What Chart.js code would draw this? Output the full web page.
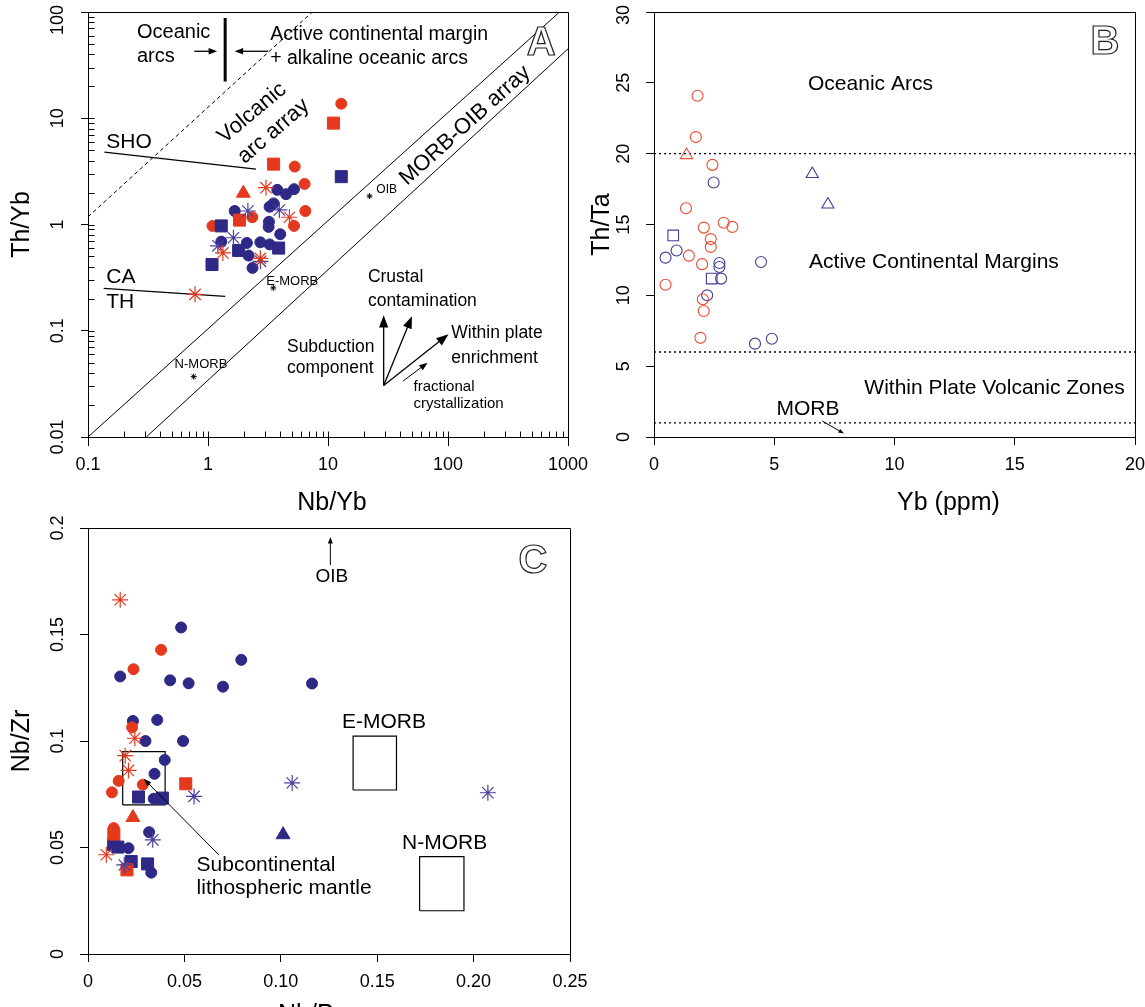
<!DOCTYPE html>
<html><head><meta charset="utf-8">
<script src="https://cdn.jsdelivr.net/npm/chart.js@4.4.1/dist/chart.umd.min.js"></script>
<style>
html,body{margin:0;padding:0;background:#fff;overflow:hidden;}
#wrap{position:relative;width:1145px;height:1007px;overflow:hidden;background:#fff;}
canvas{position:absolute;display:block;}
</style></head><body><div id="wrap">
<canvas id="chartA" width="600" height="530" style="left:0px;top:0px;width:600px;height:530px"></canvas>
<canvas id="chartB" width="565" height="530" style="left:580px;top:0px;width:565px;height:530px"></canvas>
<canvas id="chartC" width="600" height="497" style="left:0px;top:510px;width:600px;height:497px"></canvas>
</div>
<script>
const FONT = "'Liberation Sans', Arial, Helvetica, sans-serif";
const RED = '#e5391d';
const NAVY = '#2e2886';
const NAVY_STAR = '#4a3f9c';
const RED_OPEN = '#ea4a30';
const NAVY_OPEN = '#453c98';

// ---------------- Panel A : Th/Yb vs Nb/Yb ----------------
const aRedCircles = [[12.9,13.7],[5.28,3.51],[6.38,2.41],[6.47,1.34],[5.21,0.97],[1.09,0.97],[2.34,1.17]];
const aRedSquares = [[11.1,9.0],[3.52,3.70],[1.83,1.10]];
const aRedTriangles = [[1.97,1.97]];
const aRedStars = [[3.04,2.22],[4.77,1.17],[1.33,0.54],[2.73,0.48],[0.78,0.22]];
const aBlueCircles = [[3.78,2.12],[4.47,1.93],[5.21,2.15],[1.67,1.34],[3.26,1.47],[3.52,1.58],[3.22,1.06],[3.2,0.95],[4.0,0.81],[1.29,0.69],[2.11,0.67],[2.73,0.68],[3.26,0.65],[2.18,0.51],[2.35,0.39]];
const aBlueSquares = [[12.9,2.82],[1.29,0.97],[1.8,0.57],[3.88,0.6],[1.08,0.42]];
const aBlueStars = [[2.15,1.34],[3.93,1.37],[1.63,0.75],[1.21,0.63],[2.74,0.45]];
const aRefPoints = [[0.76,0.037],[3.5,0.253],[22.2,1.85]];   // N-MORB, E-MORB, OIB
const aLineVolcArc = [[0.1,1.18],[7.4,100]];
const aLineMorbUpper = [[0.1,0.01],[850,100]];
const aLineMorbLower = [[0.306,0.01],[1000,45]];
const aLineSHO = [[0.137,4.8],[2.51,3.32]];
const aLineCATH = [[0.135,0.25],[1.39,0.211]];
const aLineArcBoundary = [[1.39,88],[1.39,22.2]];
const aXTickValues = [0.1,1,10,100,1000];
const aXTickLabels = ['0.1','1','10','100','1000'];
const aYTickValues = [0.01,0.1,1,10,100];
const aYTickLabels = ['0.01','0.1','1','10','100'];
const minorMultipliers = [2,3,4,5,6,7,8,9];

const aNotes = [
 {text:'Oceanic', x:0.256, y:63.7, size:20, align:'left'},
 {text:'arcs', x:0.256, y:38.3, size:20, align:'left'},
 {text:'Active continental margin', x:3.30, y:61.3, size:19.5, align:'left'},
 {text:'+ alkaline oceanic arcs', x:3.30, y:36.2, size:19.5, align:'left'},
 {text:'SHO', x:0.142, y:5.94, size:21, align:'left'},
 {text:'CA', x:0.142, y:0.318, size:21, align:'left'},
 {text:'TH', x:0.142, y:0.184, size:21, align:'left'},
 {text:'Volcanic', x:2.33, y:11.2, size:22, align:'center', rot:-40},
 {text:'arc array', x:3.52, y:7.54, size:22, align:'center', rot:-41},
 {text:'MORB-OIB array', x:138.7, y:8.53, size:22, align:'center', rot:-42},
 {text:'Crustal', x:21.5, y:0.322, size:17.5, align:'left'},
 {text:'contamination', x:21.5, y:0.191, size:17.5, align:'left'},
 {text:'Within plate', x:106.5, y:0.0953, size:17.5, align:'left'},
 {text:'enrichment', x:106.5, y:0.0547, size:17.5, align:'left'},
 {text:'Subduction', x:4.55, y:0.0703, size:17.5, align:'left'},
 {text:'component', x:4.55, y:0.044, size:17.5, align:'left'},
 {text:'fractional', x:51.7, y:0.0295, size:15, align:'left'},
 {text:'crystallization', x:51.7, y:0.0203, size:15, align:'left'},
 {text:'N-MORB', x:0.527, y:0.048, size:13, align:'left'},
 {text:'E-MORB', x:3.06, y:0.289, size:13, align:'left'},
 {text:'OIB', x:25.3, y:2.12, size:12, align:'left'}
];
const aArrows = [
 {from:[29.1,0.0306], to:[29.1,0.140], head:13, width:1.3},
 {from:[29.1,0.0306], to:[50.1,0.137], head:13, width:1.3},
 {from:[29.1,0.0306], to:[101,0.0927], head:13, width:1.3},
 {from:[42.2,0.0336], to:[67.6,0.0501], head:9, width:1},
 {from:[0.769,42.7], to:[1.19,42.7], head:9, width:1.3},
 {from:[3.18,42.7], to:[1.67,42.7], head:9, width:1.3}
];

// ---------------- Panel B : Th/Ta vs Yb ----------------
const bRedCircles = [[1.81,24.09],[1.74,21.17],[2.43,19.21],[1.33,16.15],[2.07,14.78],[2.90,15.12],[3.26,14.83],[2.36,13.97],[2.36,13.42],[1.45,12.8],[2.0,12.2],[0.48,10.75],[2.03,9.72],[2.07,8.89],[1.93,7.0]];
const bRedTriangles = [[1.35,19.9]];
const bBlueCircles = [[2.48,17.97],[0.94,13.16],[0.48,12.66],[2.72,12.28],[2.72,12.0],[4.45,12.35],[2.79,11.18],[2.21,10.0],[4.2,6.59],[4.9,6.94]];
const bBlueSquares = [[0.80,14.23],[2.4,11.18]];
const bBlueTriangles = [[6.58,18.56],[7.23,16.41]];
const bLineOceanicArcs = [[0,20],[20,20]];
const bLineACM = [[0,6],[20,6]];
const bLineMORB = [[0,1],[20,1]];
const bXTickValues = [0,5,10,15,20];
const bXTickLabels = ['0','5','10','15','20'];
const bYTickValues = [0,5,10,15,20,25,30];
const bYTickLabels = ['0','5','10','15','20','25','30'];
const bNotes = [
 {text:'Oceanic Arcs', x:9.0, y:24.93, size:21, align:'center'},
 {text:'Active Continental Margins', x:11.64, y:12.37, size:21, align:'center'},
 {text:'Within Plate Volcanic Zones', x:19.57, y:3.42, size:21, align:'right'},
 {text:'MORB', x:6.4, y:1.96, size:21, align:'center'}
];
const bArrows = [{from:[7.0,1.13], to:[7.9,0.24], head:6, width:1}];

// ---------------- Panel C : Nb/Zr ----------------
const cRedCircles = [[0.0379,0.1428],[0.0236,0.1337],[0.0229,0.1064],[0.0159,0.0813],[0.0124,0.0759],[0.0284,0.0795],[0.0133,0.0591]];
const cRedSquares = [[0.0507,0.0799],[0.0134,0.0563],[0.0202,0.0395]];
const cRedTriangles = [[0.0233,0.0641]];
const cRedStars = [[0.0167,0.1663],[0.0243,0.1013],[0.0193,0.0931],[0.021,0.0862],[0.0095,0.0466]];
const cBlueCircles = [[0.0483,0.1533],[0.0167,0.1303],[0.0426,0.1285],[0.0522,0.1271],[0.070,0.1255],[0.0795,0.1381],[0.1162,0.127],[0.0233,0.1094],[0.0359,0.1099],[0.0298,0.1],[0.0493,0.1],[0.0398,0.0911],[0.0345,0.0846],[0.0341,0.0729],[0.0317,0.0572],[0.021,0.0497],[0.0328,0.0382]];
const cBlueSquares = [[0.0262,0.0737],[0.0386,0.0732],[0.0133,0.0513],[0.0155,0.0502],[0.0224,0.0434],[0.0309,0.0423]];
const cBlueTriangles = [[0.1012,0.056]];
const cBlueStars = [[0.055,0.074],[0.1059,0.0803],[0.2074,0.0757],[0.0336,0.0536],[0.0188,0.0418]];
const cBoxSCLM = [0.018,0.040,0.070,0.095];     // xmin,xmax,ymin,ymax
const cBoxEMORB = [0.1375,0.160,0.077,0.1023];
const cBoxNMORB = [0.172,0.195,0.0203,0.0457];
const cXTickValues = [0,0.05,0.1,0.15,0.2,0.25];
const cXTickLabels = ['0','0.05','0.10','0.15','0.20','0.25'];
const cYTickValues = [0,0.05,0.1,0.15,0.2];
const cYTickLabels = ['0','0.05','0.1','0.15','0.2'];
const cNotes = [
 {text:'OIB', x:0.1265, y:0.1771, size:19, align:'center'},
 {text:'E-MORB', x:0.1535, y:0.109, size:21, align:'center'},
 {text:'N-MORB', x:0.185, y:0.052, size:21, align:'center'},
 {text:'Subcontinental', x:0.0563, y:0.0418, size:21, align:'left'},
 {text:'lithospheric mantle', x:0.0563, y:0.031, size:21, align:'left'}
];
const cArrows = [
 {from:[0.1257,0.1826], to:[0.1257,0.1958], head:7, width:1},
 {from:[0.0679,0.0465], to:[0.029,0.0822], head:8, width:1}
];

// ---------------- helpers ----------------
const toXY = arr => arr.map(p => ({x:p[0], y:p[1]}));
const rectPath = b => [[b[0],b[2]],[b[1],b[2]],[b[1],b[3]],[b[0],b[3]],[b[0],b[2]]];
function pts(data, style, color, radius, filled, bw) {
  return {data: toXY(data), pointStyle: style, pointRadius: radius, pointHoverRadius: radius,
    backgroundColor: filled ? color : 'rgba(0,0,0,0)', borderColor: color,
    pointBackgroundColor: filled ? color : 'rgba(0,0,0,0)', pointBorderColor: color,
    pointBorderWidth: bw, borderWidth: bw, showLine:false};
}
function line(data, width, dash) {
  return {data: toXY(data), showLine:true, borderColor:'#000', borderWidth:width, borderDash: dash || [],
    pointRadius:0, pointHoverRadius:0, fill:false, tension:0};
}
function logMinor(decades) {
  const out = [];
  decades.forEach(d => minorMultipliers.forEach(m => out.push(d*m)));
  return out;
}
function arrow(ctx, x1, y1, x2, y2, head, width) {
  const a = Math.atan2(y2-y1, x2-x1);
  ctx.lineWidth = width;
  ctx.beginPath(); ctx.moveTo(x1,y1); ctx.lineTo(x2 - Math.cos(a)*head*0.6, y2 - Math.sin(a)*head*0.6); ctx.stroke();
  ctx.beginPath(); ctx.moveTo(x2,y2);
  ctx.lineTo(x2 - head*Math.cos(a-0.36), y2 - head*Math.sin(a-0.36));
  ctx.lineTo(x2 - head*Math.cos(a+0.36), y2 - head*Math.sin(a+0.36));
  ctx.closePath(); ctx.fill();
}

function decor(spec) {
  return {
    id: 'decor' + spec.id,
    afterDraw(chart) {
      const ctx = chart.ctx, xs = chart.scales.x, ys = chart.scales.y, ca = chart.chartArea;
      const X = v => xs.getPixelForValue(v), Y = v => ys.getPixelForValue(v);
      ctx.save();
      ctx.strokeStyle = '#000'; ctx.fillStyle = '#000'; ctx.lineWidth = 1;
      // frame
      const l = Math.round(ca.left)+0.5, r = Math.round(ca.right)+0.5, t = Math.round(ca.top)+0.5, b = Math.round(ca.bottom)+0.5;
      ctx.beginPath(); ctx.moveTo(l,t); ctx.lineTo(r,t); ctx.lineTo(r,b); ctx.stroke();
      // inner ticks
      (spec.xInner || []).forEach(v => { const p = Math.round(X(v))+0.5; ctx.beginPath(); ctx.moveTo(p,b); ctx.lineTo(p,b-spec.innerLen); ctx.stroke(); });
      (spec.yInner || []).forEach(v => { const p = Math.round(Y(v))+0.5; ctx.beginPath(); ctx.moveTo(l,p); ctx.lineTo(l+spec.innerLen,p); ctx.stroke(); });
      // tick labels
      ctx.font = '18px ' + FONT; ctx.textBaseline = 'middle'; ctx.textAlign = 'center';
      spec.xTicks.forEach((v,i) => ctx.fillText(spec.xLabels[i], X(v), ca.bottom + 28));
      spec.yTicks.forEach((v,i) => {
        const w = ctx.measureText(spec.yLabels[i]).width;
        const cy = Math.max(Y(v), w/2 + 5);
        ctx.save(); ctx.translate(ca.left - 29.5, cy); ctx.rotate(-Math.PI/2); ctx.fillText(spec.yLabels[i], 0, 0); ctx.restore();
      });
      // axis titles
      ctx.font = '25px ' + FONT;
      const xt = spec.xTitle;
      ctx.textAlign = xt.align || 'center'; ctx.textBaseline = xt.baseline || 'middle';
      ctx.fillText(xt.text, (ca.left+ca.right)/2 + xt.dx, ca.bottom + xt.dy);
      const yt = spec.yTitle;
      ctx.save(); ctx.translate(ca.left + yt.dx, (ca.top+ca.bottom)/2 + yt.dy); ctx.rotate(-Math.PI/2);
      ctx.textAlign = 'center'; ctx.textBaseline = 'middle'; ctx.fillText(yt.text, 0, 0); ctx.restore();
      // notes
      spec.notes.forEach(n => {
        ctx.save(); ctx.translate(X(n.x), Y(n.y)); if (n.rot) ctx.rotate(n.rot*Math.PI/180);
        ctx.font = n.size + 'px ' + FONT; ctx.textAlign = n.align; ctx.textBaseline = 'middle';
        ctx.fillText(n.text, 0, 0); ctx.restore();
      });
      // arrows
      spec.arrows.forEach(a => arrow(ctx, X(a.from[0]), Y(a.from[1]), X(a.to[0]), Y(a.to[1]), a.head, a.width));
      // panel letter
      const L = spec.letter;
      ctx.font = 'bold 40px ' + FONT; ctx.textAlign = 'center'; ctx.textBaseline = 'middle';
      ctx.fillStyle = '#fff'; ctx.fillText(L.text, X(L.x), Y(L.y));
      ctx.strokeStyle = '#222'; ctx.lineWidth = 1.2; ctx.strokeText(L.text, X(L.x), Y(L.y));
      ctx.restore();
    }
  };
}

function makeChart(id, c) {
  const s = c.spec;
  return new Chart(document.getElementById(id), {
    type: 'scatter',
    data: {datasets: c.datasets},
    options: {
      responsive:false, animation:false, devicePixelRatio:1, events:[],
      layout:{padding:c.padding},
      plugins:{legend:{display:false}, tooltip:{enabled:false}, title:{display:false}},
      scales:{
        x:{type:c.xType, min:c.xMin, max:c.xMax, position:'bottom',
           afterBuildTicks: sc => { sc.ticks = s.xTicks.map(v => ({value:v})); },
           afterFit: sc => { sc.height = c.xHeight; },
           grid:{display:true, drawOnChartArea:false, drawTicks:true, tickLength:c.xTickLen, tickColor:'#000', tickWidth:1, color:'#000'},
           border:{display:true, color:'#000', width:1},
           ticks:{display:false}},
        y:{type:c.yType, min:c.yMin, max:c.yMax, position:'left',
           afterBuildTicks: sc => { sc.ticks = s.yTicks.map(v => ({value:v})); },
           afterFit: sc => { sc.width = c.yWidth; },
           grid:{display:true, drawOnChartArea:false, drawTicks:true, tickLength:c.yTickLen, tickColor:'#000', tickWidth:1, color:'#000'},
           border:{display:true, color:'#000', width:1},
           ticks:{display:false}}
      }
    },
    plugins:[decor(s)]
  });
}

// ---------------- build charts ----------------
makeChart('chartA', {
  xType:'logarithmic', xMin:0.1, xMax:1000, yType:'logarithmic', yMin:0.01, yMax:100,
  padding:{top:12, right:32, left:0, bottom:0}, xHeight:93, yWidth:88, xTickLen:9, yTickLen:7,
  datasets:[
    pts(aRedStars,'star',RED,8,false,1.2),
    pts(aBlueStars,'star',NAVY_STAR,8,false,1.2),
    pts(aRedTriangles,'triangle',RED,8,true,1),
    pts(aRedSquares,'rect',RED,8.5,true,1),
    pts(aBlueSquares,'rect',NAVY,8.5,true,1),
    pts(aRedCircles,'circle',RED,5.5,true,1),
    pts(aBlueCircles,'circle',NAVY,5.5,true,1),
    pts(aRefPoints,'star','#000',3,false,1),
    line(aLineVolcArc,1,[4,3]),
    line(aLineMorbUpper,1),
    line(aLineMorbLower,1),
    line(aLineSHO,1.2),
    line(aLineCATH,1.2),
    line(aLineArcBoundary,3)
  ],
  spec:{id:'A', xTicks:aXTickValues, xLabels:aXTickLabels, yTicks:aYTickValues, yLabels:aYTickLabels,
    xInner: aXTickValues.concat(logMinor([0.1,1,10,100])), yInner: aYTickValues.concat(logMinor([0.01,0.1,1,10])), innerLen:6,
    xTitle:{text:'Nb/Yb', dx:4, dy:66}, yTitle:{text:'Th/Yb', dx:-66, dy:0},
    notes:aNotes, arrows:aArrows, letter:{text:'A', x:599, y:50}}
});

makeChart('chartB', {
  xType:'linear', xMin:0, xMax:20, yType:'linear', yMin:0, yMax:30,
  padding:{top:12, right:10, left:0, bottom:0}, xHeight:93, yWidth:74, xTickLen:8, yTickLen:8,
  datasets:[
    pts(bRedCircles,'circle',RED_OPEN,5.5,false,1.1),
    pts(bRedTriangles,'triangle',RED_OPEN,7,false,1.1),
    pts(bBlueCircles,'circle',NAVY_OPEN,5.5,false,1.1),
    pts(bBlueSquares,'rect',NAVY_OPEN,7.5,false,1.1),
    pts(bBlueTriangles,'triangle',NAVY_OPEN,7,false,1.1),
    line(bLineOceanicArcs,1.3,[2,3]),
    line(bLineACM,1.3,[2,3]),
    line(bLineMORB,1.3,[2,3])
  ],
  spec:{id:'B', xTicks:bXTickValues, xLabels:bXTickLabels, yTicks:bYTickValues, yLabels:bYTickLabels,
    xInner:[], yInner:[], innerLen:0,
    xTitle:{text:'Yb (ppm)', dx:54, dy:66}, yTitle:{text:'Th/Ta', dx:-52, dy:0},
    notes:bNotes, arrows:bArrows, letter:{text:'B', x:18.75, y:27.8}}
});

makeChart('chartC', {
  xType:'linear', xMin:0, xMax:0.25, yType:'linear', yMin:0, yMax:0.2,
  padding:{top:18, right:30, left:0, bottom:0}, xHeight:53, yWidth:88, xTickLen:8, yTickLen:8,
  datasets:[
    pts(cRedStars,'star',RED,8,false,1.2),
    pts(cBlueStars,'star',NAVY_STAR,8,false,1.2),
    pts(cRedTriangles,'triangle',RED,8,true,1),
    pts(cBlueTriangles,'triangle',NAVY,8,true,1),
    pts(cRedSquares,'rect',RED,8.5,true,1),
    pts(cBlueSquares,'rect',NAVY,8.5,true,1),
    pts(cRedCircles,'circle',RED,5.5,true,1),
    pts(cBlueCircles,'circle',NAVY,5.5,true,1),
    line(rectPath(cBoxSCLM),1.2),
    line(rectPath(cBoxEMORB),1.2),
    line(rectPath(cBoxNMORB),1.2)
  ],
  spec:{id:'C', xTicks:cXTickValues, xLabels:cXTickLabels, yTicks:cYTickValues, yLabels:cYTickLabels,
    xInner:[], yInner:[], innerLen:0,
    xTitle:{text:'Nb/P', dx:-51, dy:68, align:'left', baseline:'alphabetic'}, yTitle:{text:'Nb/Zr', dx:-66, dy:0},
    notes:cNotes, arrows:cArrows, letter:{text:'C', x:0.2308, y:0.184}}
});
</script></body></html>
